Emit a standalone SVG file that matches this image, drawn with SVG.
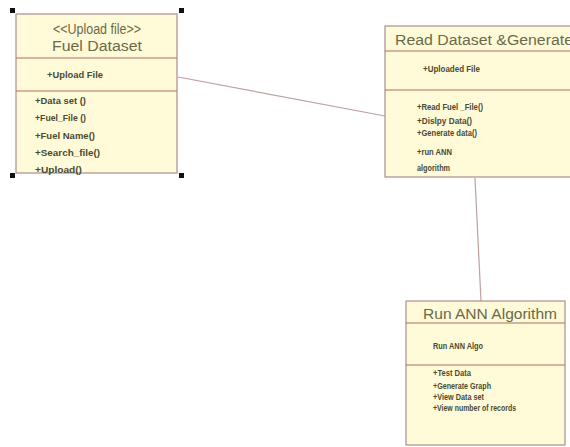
<svg xmlns="http://www.w3.org/2000/svg" width="570" height="447" viewBox="0 0 570 447">
<style>
.box{fill:#fffad8;stroke:#a89090;stroke-width:1.2}
.div{stroke:#b07060;stroke-width:1.2}
.hdr{font-family:"Liberation Sans",Arial,sans-serif;font-size:14px;fill:#6a6a48}
.mem{font-family:"Liberation Sans",Arial,sans-serif;font-size:9.5px;font-weight:bold;fill:#4a4a30}
.conn{stroke:#c0a0a0;stroke-width:1.2;fill:none}
.hdl{fill:#111}
</style>
<rect width="570" height="447" fill="#ffffff"/>
<g id="connectors">
<line class="conn" x1="178" y1="77" x2="385" y2="116"/>
<line class="conn" x1="475" y1="178" x2="481" y2="301"/>
</g>
<g id="fuel-dataset">
<rect class="box" x="16" y="14" width="161" height="159"/>
<line class="div" x1="16" y1="58" x2="177" y2="58"/>
<line class="div" x1="16" y1="91" x2="177" y2="91"/>
<text class="hdr" x="97" y="34" text-anchor="middle" font-size="12" textLength="88" lengthAdjust="spacingAndGlyphs">&lt;&lt;Upload file&gt;&gt;</text>
<text class="hdr" x="97" y="51" text-anchor="middle" textLength="90" lengthAdjust="spacingAndGlyphs">Fuel Dataset</text>
<text class="mem" x="47" y="78" textLength="56" lengthAdjust="spacingAndGlyphs">+Upload File</text>
<text class="mem" x="35" y="104" textLength="51" lengthAdjust="spacingAndGlyphs">+Data set ()</text>
<text class="mem" x="35" y="121" textLength="51" lengthAdjust="spacingAndGlyphs">+Fuel_File ()</text>
<text class="mem" x="35" y="139" textLength="60" lengthAdjust="spacingAndGlyphs">+Fuel Name()</text>
<text class="mem" x="35" y="156" textLength="65" lengthAdjust="spacingAndGlyphs">+Search_file()</text>
<text class="mem" x="35" y="173" textLength="47" lengthAdjust="spacingAndGlyphs">+Upload()</text>
<rect class="hdl" x="10" y="8" width="5" height="5"/>
<rect class="hdl" x="179" y="8" width="5" height="5"/>
<rect class="hdl" x="10" y="173" width="5" height="5"/>
<rect class="hdl" x="179" y="173" width="5" height="5"/>
</g>
<g id="read-dataset">
<rect class="box" x="385" y="26" width="195" height="151"/>
<line class="div" x1="385" y1="51" x2="570" y2="51"/>
<line class="div" x1="385" y1="90" x2="570" y2="90"/>
<text class="hdr" x="395" y="45" textLength="178" lengthAdjust="spacingAndGlyphs">Read Dataset &amp;Generate</text>
<text class="mem" x="423" y="72" textLength="57" lengthAdjust="spacingAndGlyphs">+Uploaded File</text>
<text class="mem" x="417" y="110" textLength="66" lengthAdjust="spacingAndGlyphs">+Read Fuel _File()</text>
<text class="mem" x="417" y="124" textLength="55" lengthAdjust="spacingAndGlyphs">+Dislpy Data()</text>
<text class="mem" x="417" y="136" textLength="60" lengthAdjust="spacingAndGlyphs">+Generate data()</text>
<text class="mem" x="417" y="155" textLength="35" lengthAdjust="spacingAndGlyphs">+run ANN</text>
<text class="mem" x="417" y="171" textLength="33" lengthAdjust="spacingAndGlyphs">algorithm</text>
</g>
<g id="run-ann">
<rect class="box" x="406" y="301" width="159" height="144"/>
<line class="div" x1="406" y1="323" x2="565" y2="323"/>
<line class="div" x1="406" y1="365" x2="565" y2="365"/>
<text class="hdr" x="490" y="319" text-anchor="middle" textLength="134" lengthAdjust="spacingAndGlyphs">Run ANN Algorithm</text>
<text class="mem" x="433" y="349" textLength="50" lengthAdjust="spacingAndGlyphs">Run ANN Algo</text>
<text class="mem" x="433" y="376" textLength="38" lengthAdjust="spacingAndGlyphs">+Test Data</text>
<text class="mem" x="433" y="389" textLength="58" lengthAdjust="spacingAndGlyphs">+Generate Graph</text>
<text class="mem" x="433" y="400" textLength="51" lengthAdjust="spacingAndGlyphs">+View Data set</text>
<text class="mem" x="433" y="411" textLength="83" lengthAdjust="spacingAndGlyphs">+View number of records</text>
</g>
</svg>
